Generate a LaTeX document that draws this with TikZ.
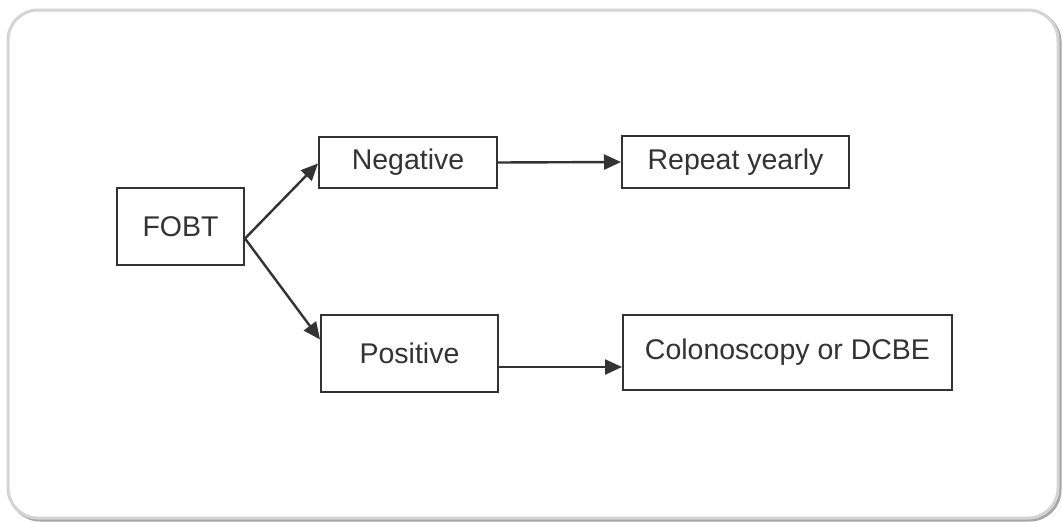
\documentclass[tikz,border=0pt]{standalone}
\usepackage{fontspec}
\setmainfont{Liberation Sans}
\usetikzlibrary{arrows.meta,calc}
\definecolor{ink}{HTML}{333333}
\definecolor{frame}{HTML}{D4D4D4}
\tikzset{
  box/.style={draw=ink, line width=2pt, rectangle, inner sep=0pt, text=ink,
    font=\fontsize{28.5}{34}\selectfont},
  conn/.style={draw=ink, line width=2.4pt, -{Triangle[length=17pt,width=15pt]}},
}
\begin{document}
\begin{tikzpicture}[x=1pt,y=-1pt]
\useasboundingbox (0,0) rectangle (1062,522);
% outer frame with slight shadow
\draw[gray!70, line width=3pt, rounded corners=30pt] (10,12) rectangle (1060,520);
\draw[frame, line width=3pt, rounded corners=30pt, fill=white] (8,10) rectangle (1058,518);
% nodes
\node[box, minimum width=127pt, minimum height=77pt] (fobt) at (180.5,226.5) {FOBT};
\node[box, minimum width=178pt, minimum height=51pt] (neg) at (408,162.5) {Negative};
\node[box, minimum width=227pt, minimum height=52pt] (rep) at (735.5,162) {Repeat yearly};
\node[box, minimum width=177pt, minimum height=77pt] (pos) at (409.5,353.5) {Positive};
\node[box, minimum width=329pt, minimum height=75pt] (col) at (787.5,352.5) {Colonoscopy or DCBE};
% connectors
\coordinate (fs) at ([yshift=-12pt]fobt.east);
\draw[conn] (fs) -- ([yshift=-1pt]neg.west);
\draw[conn] (fs) -- ([yshift=14pt]pos.west);
\draw[conn] (neg.east) -- (rep.west);
\draw[conn] ([yshift=-13.5pt]pos.east) -- ([yshift=-13.5pt]pos.east -| col.west);
\end{tikzpicture}
\end{document}
